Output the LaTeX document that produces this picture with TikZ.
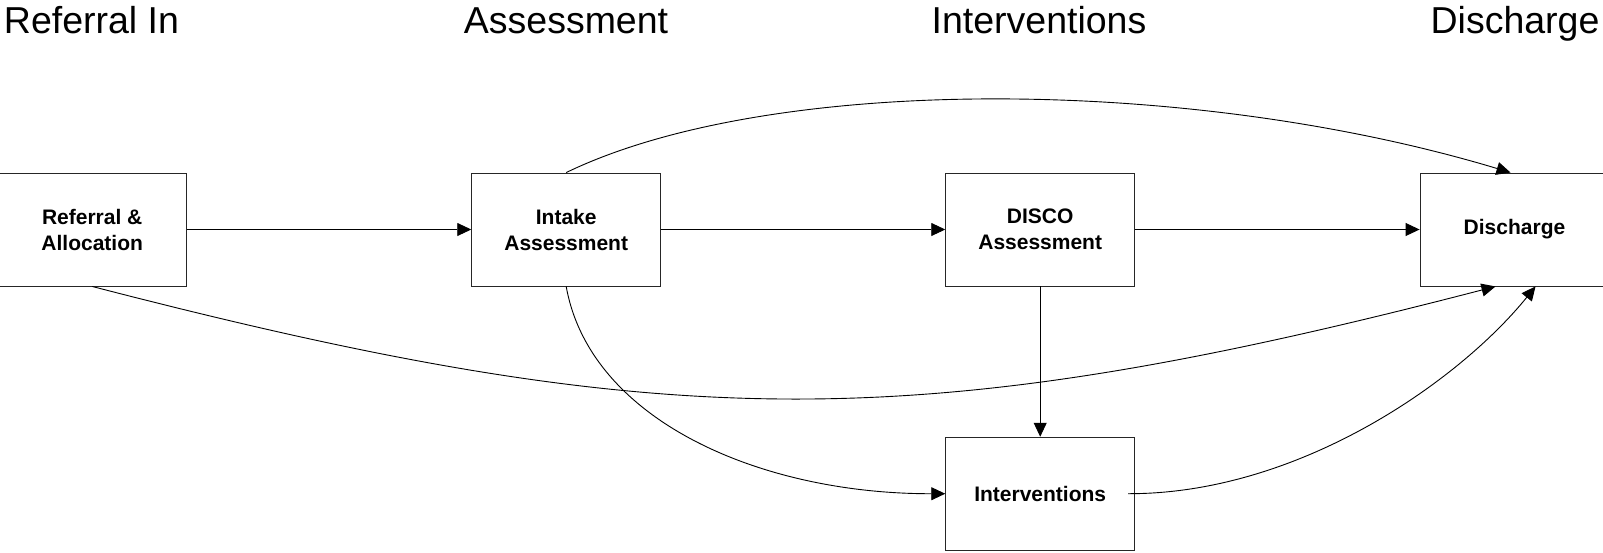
\documentclass[tikz,border=0pt]{standalone}
\usepackage{fontspec}
\setmainfont{Liberation Sans}
\usetikzlibrary{arrows.meta}
\begin{document}
\begin{tikzpicture}[x=1pt,y=-1pt,
  box/.style={draw=black!85,line width=0.9pt,minimum width=189pt,minimum height=113pt,
    align=center,font=\fontsize{21}{26}\selectfont\bfseries,inner sep=0pt},
  title/.style={font=\fontsize{37.5}{40}\selectfont,anchor=base,inner sep=0pt},
  arr/.style={draw=black,line width=0.9pt,-{Triangle[length=14pt,width=13pt]}}]
\useasboundingbox (0,0) rectangle (1603,552);
\clip (0,0) rectangle (1603,552);
\node[title] (t1) at (91.5,33) {Referral In};
\node[title] (t2) at (566,33) {Assessment};
\node[title] (t3) at (1039,33) {Interventions};
\node[title] (t4) at (1515,33) {Discharge};
\node[box] (ref) at (92.2,229.5) {Referral \&\\Allocation};
\node[box] (int) at (566.2,229.5) {Intake\\Assessment};
\node[box] (dis) at (1040.2,229.5) {DISCO\\Assessment};
\node[box] (dch) at (1514.5,229.5) {\raisebox{-1.5pt}{Discharge}};
\node[box] (iv) at (1040.2,493.7) {Interventions};
\draw[arr] (ref) -- (int);
\draw[arr] (int) -- (dis);
\draw[arr] (dis) -- (dch);
\draw[arr] (dis) -- (iv);
\draw[arr] (int.north) .. controls (770,74) and (1190,76) .. ([xshift=-4pt]dch.north);
\draw[arr] (ref.south) .. controls (669,436) and (919,436) .. ([xshift=-19pt]dch.south);
\draw[arr] (int.south) .. controls (590,420) and (760,494) .. (iv.west);
\draw[arr] ([xshift=-7pt]iv.east) .. controls (1300,494) and (1460,380) .. ([xshift=21pt]dch.south);
\end{tikzpicture}
\end{document}
